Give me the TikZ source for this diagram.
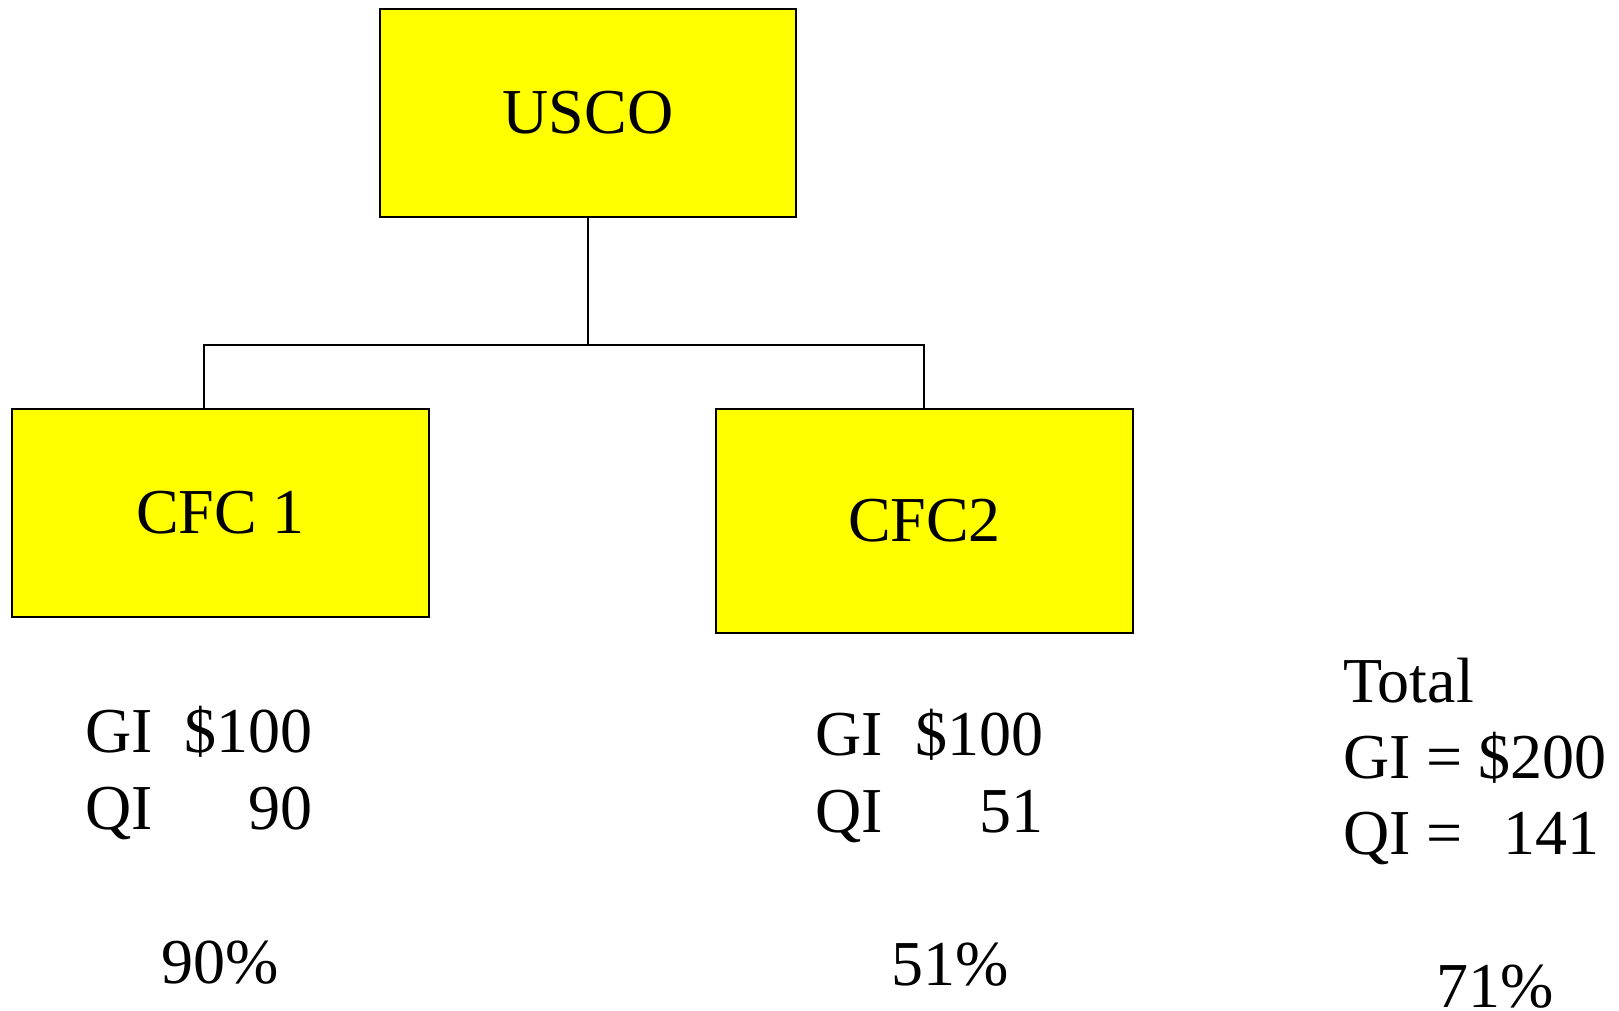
\documentclass[tikz,border=0pt]{standalone}
\usepackage{fontspec}
\setmainfont{Liberation Serif}
\definecolor{boxyellow}{RGB}{255,255,0}
\begin{document}
\begin{tikzpicture}[x=1pt,y=-1pt,
  big/.style={font=\fontsize{64}{77}\selectfont},
  entity/.style={big, draw=black, line width=1.8pt, fill=boxyellow,
    inner sep=0pt, minimum width=417pt},
  txt/.style={big, inner sep=0pt},
  link/.style={line width=1.2pt}]
\useasboundingbox (0,0) rectangle (1619,1011);

% ownership boxes
\node[entity, minimum width=416pt, minimum height=208pt] (usco) at (588,113) {USCO};
\node[entity, minimum height=208pt] (cfc1) at (220.5,513) {CFC 1};
\node[entity, minimum height=224pt] (cfc2) at (924.5,521) {CFC2};

% tree connectors
\coordinate (busL) at (204,345);
\coordinate (busR) at (924,345);
\draw[link] (usco.south) -- (usco.south |- busL);
\draw[link] (cfc1.north -| busL) -- (busL) -- (busR) -- (cfc2.north -| busR);

% CFC 1 figures
\node[txt, anchor=base west] (gi1) at (85,752) {GI};
\node[txt, anchor=base east] (gv1) at (313,752) {\$100};
\node[txt, anchor=base west] (qi1) at (85,829) {QI};
\node[txt, anchor=base east] (qv1) at (313,829) {90};
\node[txt, anchor=base] (p1) at (220,983) {90\%};

% CFC2 figures
\node[txt, anchor=base west] (gi2) at (815,755) {GI};
\node[txt, anchor=base east] (gv2) at (1044,755) {\$100};
\node[txt, anchor=base west] (qi2) at (815,832) {QI};
\node[txt, anchor=base east] (qv2) at (1044,832) {51};
\node[txt, anchor=base] (p2) at (950,985) {51\%};

% totals
\node[txt, anchor=base west] (tot) at (1343,702) {Total};
\node[txt, anchor=base west] (git) at (1343,778) {GI = \$200};
\node[txt, anchor=base west] (qit) at (1343,854) {QI =};
\node[txt, anchor=base east] (qvt) at (1600,854) {141};
\node[txt, anchor=base] (pt) at (1495,1007) {71\%};
\end{tikzpicture}
\end{document}
